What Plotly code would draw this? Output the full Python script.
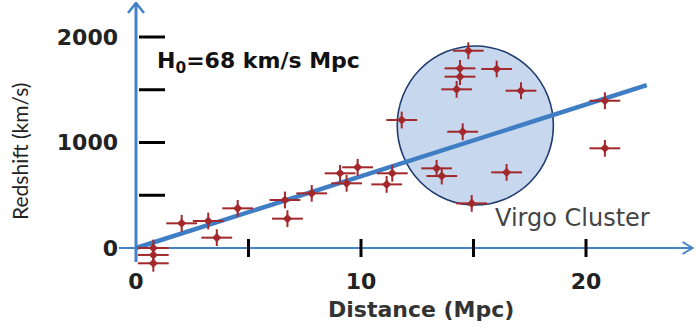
import plotly.graph_objects as go

# ---- data ----
distance_mpc = [0.77, 0.77, 0.77, 2.03, 3.21, 3.59, 4.52, 6.62, 6.73, 7.81,
                9.07, 9.36, 9.85, 11.14, 11.39, 11.81, 13.36, 13.59, 14.25, 14.40,
                14.40, 14.52, 14.77, 14.92, 16.03, 16.47, 17.11, 20.84, 20.84]
redshift_kms = [0, -66, -145, 234, 256, 98, 376, 455, 278, 518,
                708, 613, 765, 603, 708, 1213, 755, 682, 1504, 1703,
                1624, 1102, 1870, 423, 1697, 717, 1491, 1396, 945]
H0 = 68
fit_x = [0, 22.7]
fit_y = [H0 * v for v in fit_x]

x_tick_vals = [0, 10, 20]
x_tick_text = ["0", "10", "20"]
x_tick_marks = [5, 10, 15, 20]
y_tick_vals = [0, 1000, 2000]
y_tick_text = ["0", "1000", "2000"]
y_tick_marks = [500, 1000, 1500, 2000]

virgo_cx, virgo_cy, virgo_rx, virgo_ry = 15.08, 1161, 3.47, 754

# ---- axes geometry ----
X_RANGE = [-0.7556, 24.8]
Y_RANGE = [-170.6, 2331.8]
PX_X = 575 / (X_RANGE[1] - X_RANGE[0])  # px per unit
PX_Y = 264 / (Y_RANGE[1] - Y_RANGE[0])

AXIS_BLUE = "#4482c8"
RED = "#a3282b"

fig = go.Figure()

fig.add_trace(go.Scatter(x=fit_x, y=fit_y, mode="lines",
                         line=dict(color="#3f7dc4", width=4.5),
                         hoverinfo="skip", showlegend=False))

for sym, size, lw in [("line-ew", 22, 2), ("line-ns", 12, 2)]:
    fig.add_trace(go.Scatter(x=distance_mpc, y=redshift_kms, mode="markers",
                             marker=dict(symbol=sym, size=size,
                                         line=dict(color=RED, width=lw)),
                             cliponaxis=False, showlegend=False))
fig.add_trace(go.Scatter(x=distance_mpc, y=redshift_kms, mode="markers",
                         marker=dict(symbol="diamond", size=7, color=RED,
                                     line=dict(width=0)),
                         cliponaxis=False, showlegend=False))

shapes = []
# Virgo ellipse
shapes.append(dict(type="circle", xref="x", yref="y", layer="below",
                   x0=virgo_cx - virgo_rx, x1=virgo_cx + virgo_rx,
                   y0=virgo_cy - virgo_ry, y1=virgo_cy + virgo_ry,
                   fillcolor="#c7d7ed", line=dict(color="#1f3c6e", width=1.6)))
# y axis line + arrow
y_top = Y_RANGE[1] - 1 / PX_Y
shapes.append(dict(type="line", xref="x", yref="y", layer="below",
                   x0=0, x1=0, y0=-14 / PX_Y, y1=y_top,
                   line=dict(color=AXIS_BLUE, width=3)))
shapes.append(dict(type="path", xref="x", yref="y", layer="below",
                   path=f"M {-8/PX_X} {y_top - 10/PX_Y} L 0 {y_top} L {8/PX_X} {y_top - 10/PX_Y}",
                   line=dict(color=AXIS_BLUE, width=2.5)))
# x axis line + arrow
x_end = X_RANGE[1] - 1.5 / PX_X
shapes.append(dict(type="line", xref="x", yref="y", layer="below",
                   x0=X_RANGE[0], x1=x_end, y0=0, y1=0,
                   line=dict(color=AXIS_BLUE, width=2)))
shapes.append(dict(type="path", xref="x", yref="y", layer="below",
                   path=f"M {x_end - 10/PX_X} {6/PX_Y} L {x_end} 0 L {x_end - 10/PX_X} {-6/PX_Y}",
                   line=dict(color=AXIS_BLUE, width=2)))
# tick marks
for v in y_tick_marks:
    shapes.append(dict(type="line", xref="x", yref="y", layer="below",
                       x0=3 / PX_X, x1=29 / PX_X, y0=v, y1=v,
                       line=dict(color="black", width=3)))
for v in x_tick_marks:
    shapes.append(dict(type="line", xref="x", yref="y", layer="below",
                       x0=v, x1=v, y0=-9 / PX_Y, y1=9 / PX_Y,
                       line=dict(color="black", width=3)))

annotations = [
    dict(text="H<sub>0</sub>=68 km/s Mpc", xref="x", yref="y",
         x=0.84, y=1763, xanchor="left", yanchor="middle", showarrow=False,
         font=dict(family="DejaVu Sans", size=22, color="#111111", weight="bold")),
    dict(text="Virgo Cluster", xref="x", yref="y",
         x=15.87, y=284, xanchor="left", yanchor="middle", showarrow=False,
         font=dict(family="DejaVu Sans", size=24, color="#444444")),
    dict(text="Redshift (km/s)", xref="paper", yref="y", x=0, xshift=-100,
         y=910, xanchor="center", yanchor="middle", textangle=-90, showarrow=False,
         font=dict(family="Lato", size=21, color="#222222")),
    dict(text="Distance (Mpc)", xref="x", yref="paper", x=12.67, y=0,
         yshift=-43, xanchor="center", yanchor="middle", showarrow=False,
         font=dict(family="DejaVu Sans", size=22, color="#333333", weight="bold")),
]

fig.update_layout(
    width=696, height=328,
    margin=dict(l=119, r=2, t=2, b=62),
    paper_bgcolor="white", plot_bgcolor="white",
    shapes=shapes, annotations=annotations, showlegend=False,
    xaxis=dict(range=X_RANGE, showgrid=False, zeroline=False, showline=False,
               tickvals=x_tick_vals, ticktext=x_tick_text, ticks="",
               tickfont=dict(family="DejaVu Sans", size=22, color="#222222", weight="bold")),
    yaxis=dict(range=Y_RANGE, showgrid=False, zeroline=False, showline=False,
               tickvals=y_tick_vals, ticktext=y_tick_text, ticks="",
               tickfont=dict(family="DejaVu Sans", size=22, color="#222222", weight="bold")),
)

fig.write_html("out.html", config={"displayModeBar": False},
               post_script="document.body.style.margin='0px';document.body.style.overflow='hidden';")
